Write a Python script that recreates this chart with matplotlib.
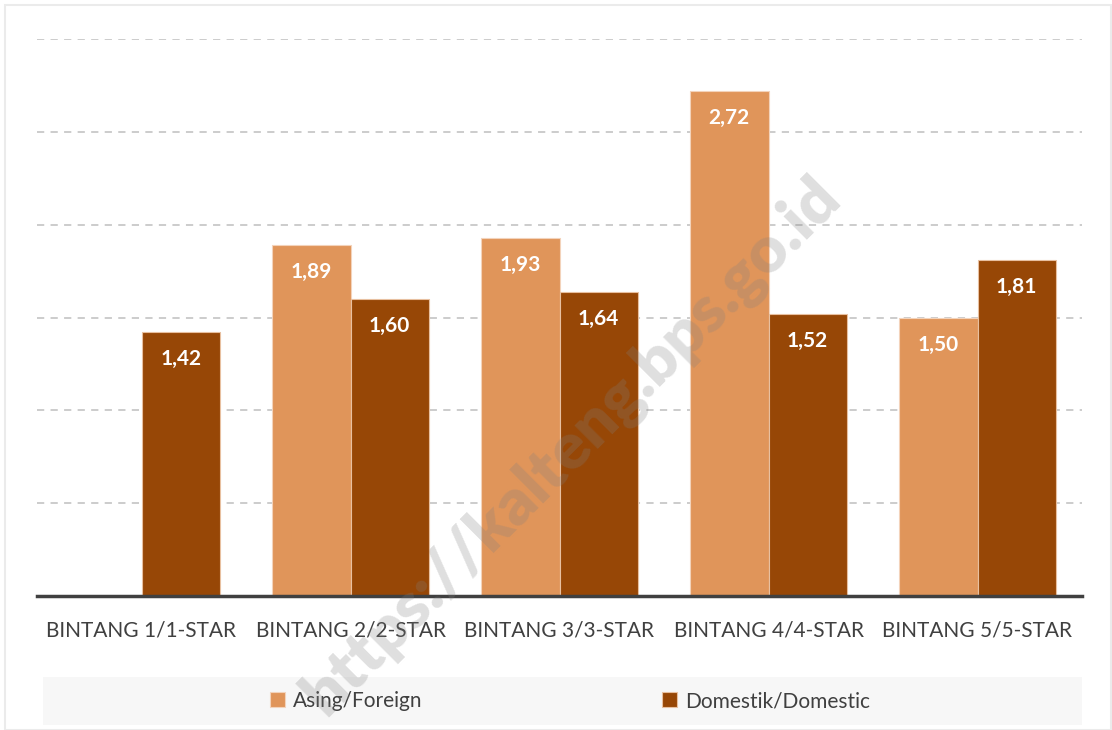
import numpy as np
from matplotlib import pyplot as plt
from matplotlib.patches import Rectangle

# data
categories = ["BINTANG 1/1-STAR", "BINTANG 2/2-STAR", "BINTANG 3/3-STAR",
              "BINTANG 4/4-STAR", "BINTANG 5/5-STAR"]
foreign = [np.nan, 1.89, 1.93, 2.72, 1.50]
domestic = [1.42, 1.60, 1.64, 1.52, 1.81]
series_names = ["Asing/Foreign", "Domestik/Domestic"]

plt.rcParams['font.family'] = ['Lato', 'DejaVu Sans']

fig = plt.figure(figsize=(11.12, 7.3), dpi=100)
W, H = 1112, 730

# light outer border of the chart area
fig.patches.append(Rectangle((5 / W, 0), 1106 / W, 1 - 5 / H, transform=fig.transFigure,
                             fill=False, edgecolor="#EBEBEB", linewidth=1.5))

ax = fig.add_axes([37 / W, 134 / H, 1045 / W, 557 / H])

x = np.arange(len(categories))
width = 0.375
colors = ["#E0955A", "#974706"]

bars_f = ax.bar(x - width / 2, foreign, width, color=colors[0], edgecolor="#F3D3BB",
                linewidth=0.8, label=series_names[0], zorder=3)
bars_d = ax.bar(x + width / 2, domestic, width, color=colors[1], edgecolor="#E8C0A0",
                linewidth=0.8, label=series_names[1], zorder=3)

# value labels inside top of bars
for bars, vals in [(bars_f, foreign), (bars_d, domestic)]:
    for b, v in zip(bars, vals):
        if np.isnan(v):
            continue
        ax.annotate(f"{v:.2f}".replace(".", ","), (b.get_x() + b.get_width() / 2, v),
                    xytext=(0, -19.5), textcoords="offset points", ha="center", va="center",
                    color="white", fontsize=15, fontweight="bold", zorder=5)

ax.set_xlim(-0.5, len(categories) - 0.5)
ax.set_ylim(0, 3.0)
ax.set_yticks(np.arange(0.5, 3.01, 0.5))
ax.yaxis.grid(True, linestyle=(0, (4, 3.5)), color="#C8C8C8", linewidth=1.3, zorder=0)
ax.tick_params(axis="y", left=False, labelleft=False)
ax.tick_params(axis="x", bottom=False, pad=14, labelsize=15, labelcolor="#404040")
ax.set_xticks(x)
ax.set_xticklabels(categories)
for s in ["top", "right", "left"]:
    ax.spines[s].set_visible(False)
ax.spines["bottom"].set_color("#404040")
ax.spines["bottom"].set_linewidth(2.5)
ax.spines["bottom"].set_zorder(4)

# legend on a light gray strip
fig.patches.append(Rectangle((43 / W, 5 / H), 1039 / W, 48 / H, transform=fig.transFigure,
                             facecolor="#F7F7F7", edgecolor="none", zorder=0))
leg = fig.legend(handles=[bars_f, bars_d], labels=series_names, loc="center",
                 bbox_to_anchor=(570 / W, 29 / H), ncol=2, frameon=False, fontsize=15,
                 handlelength=0.7, handleheight=0.7, handletextpad=0.4, columnspacing=11.5)
for t in leg.get_texts():
    t.set_color("#404040")

# watermark
fig.text(572 / W, 284 / H, "https://kalteng.bps.go.id", rotation=45, ha="center", va="center",
         fontsize=47, fontweight="heavy", color="#808080", alpha=0.25, zorder=10)

fig.savefig("out.png", dpi=100)
